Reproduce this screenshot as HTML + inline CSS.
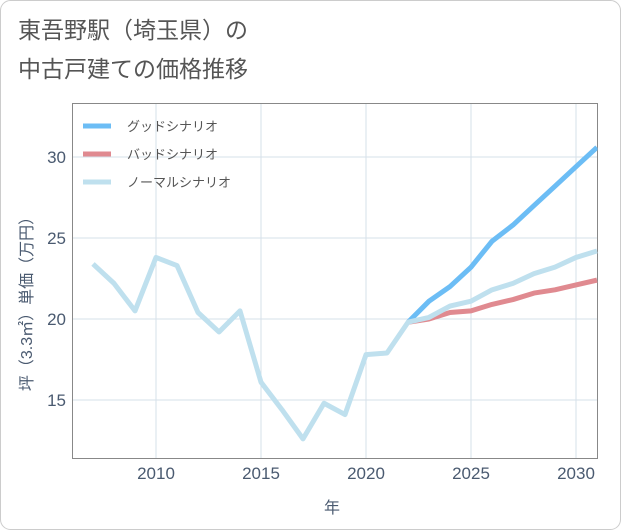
<!DOCTYPE html>
<html><head><meta charset="utf-8"><style>
body{margin:0;background:#fff;}
#wrap{position:relative;width:621px;height:530px;font-family:"Liberation Sans","Noto Sans CJK JP",sans-serif;}
</style></head><body>
<div id="wrap">
<svg id="chart" width="621" height="530" style="position:absolute;left:0;top:0">
<rect x="0.5" y="0.5" width="620" height="529" rx="10" fill="#fff" stroke="#ccc"/>
<text x="18" y="38" font-size="23" fill="#555">東吾野駅（埼玉県）の</text>
<text x="18" y="77" font-size="23" fill="#555">中古戸建ての価格推移</text>
<g id="grid"></g>
<rect x="72.5" y="103.5" width="525" height="355" fill="none" stroke="#888"/>
<g id="series"></g>
<g id="legend"></g>
<text x="332" y="513" font-size="16" fill="#4a5a70" text-anchor="middle">年</text>
<text transform="translate(32,300) rotate(-90)" font-size="16" fill="#4a5a70" text-anchor="middle">坪（3.3㎡）単価（万円）</text>
</svg>
</div>
<script>
const years=[2007,2008,2009,2010,2011,2012,2013,2014,2015,2016,2017,2018,2019,2020,2021,2022,2023,2024,2025,2026,2027,2028,2029,2030,2031];
const normalValues=[23.4,22.2,20.5,23.8,23.3,20.4,19.2,20.5,16.1,14.4,12.6,14.8,14.1,17.8,17.9,19.8,20.1,20.8,21.1,21.8,22.2,22.8,23.2,23.8,24.2];
const futureYears=[2022,2023,2024,2025,2026,2027,2028,2029,2030,2031];
const goodValues=[19.8,21.1,22.0,23.2,24.8,25.8,27.0,28.2,29.4,30.6];
const badValues=[19.8,20.0,20.4,20.5,20.9,21.2,21.6,21.8,22.1,22.4];
const xTicks=[2010,2015,2020,2025,2030];
const yTicks=[15,20,25,30];
const seriesNames=["グッドシナリオ","バッドシナリオ","ノーマルシナリオ"];
const NS="http://www.w3.org/2000/svg";
const L=72.5,R=597.5,T=103.5,B=458.5;
const x=v=>156+(v-2010)*21;
const y=v=>319-(v-20)*16.2;
function mk(tag,attrs,parent){const e=document.createElementNS(NS,tag);for(const k in attrs)e.setAttribute(k,attrs[k]);parent.appendChild(e);return e;}
const grid=document.getElementById('grid');
xTicks.forEach(t=>{
 const l=mk('line',{x1:x(t),x2:x(t),y1:T,y2:B,stroke:'#d5e0ea'},grid);
 
 
 const tx=mk('text',{x:x(t),y:479,'font-size':17,fill:'#4a5a70','text-anchor':'middle'},grid);tx.textContent=t;
 
 
});
yTicks.forEach(t=>{
 const l=mk('line',{x1:L,x2:R,y1:y(t),y2:y(t),stroke:'#d5e0ea'},grid);
 
 
 const tx=mk('text',{x:66,y:y(t)+6,'font-size':17,fill:'#4a5a70','text-anchor':'end'},grid);tx.textContent=t;
 
 
});
const sg=document.getElementById('series');
function line(xs,vs,color,name){
 const d=xs.map((v,i)=>(i?'L':'M')+x(v)+','+y(vs[i])).join(' ');
 const p=mk('path',{d:d,fill:'none',stroke:color,'stroke-width':5,'stroke-linejoin':'round','clip-path':'url(#clip)'},sg);
 
 
}
const defs=mk('defs',{},document.getElementById('chart'));
const cp=mk('clipPath',{id:'clip'},defs);mk('rect',{x:L,y:T,width:R-L,height:B-T},cp);
line(futureYears,goodValues,'#6cbdf5','good-scenario-line');
line(futureYears,badValues,'#e08a90','bad-scenario-line');
line(years,normalValues,'#bfe0ee','normal-scenario-line');
const lg=document.getElementById('legend');
const colors=['#6cbdf5','#e08a90','#bfe0ee'];
seriesNames.forEach((n,i)=>{
 const yy=126+i*28;
 const l=mk('line',{x1:83,x2:111,y1:yy,y2:yy,stroke:colors[i],'stroke-width':5},lg);
 
 
 const t=mk('text',{x:127,y:yy+5,'font-size':13,fill:'#555'},lg);t.textContent=n;
 
 
});
</script>
</body></html>
